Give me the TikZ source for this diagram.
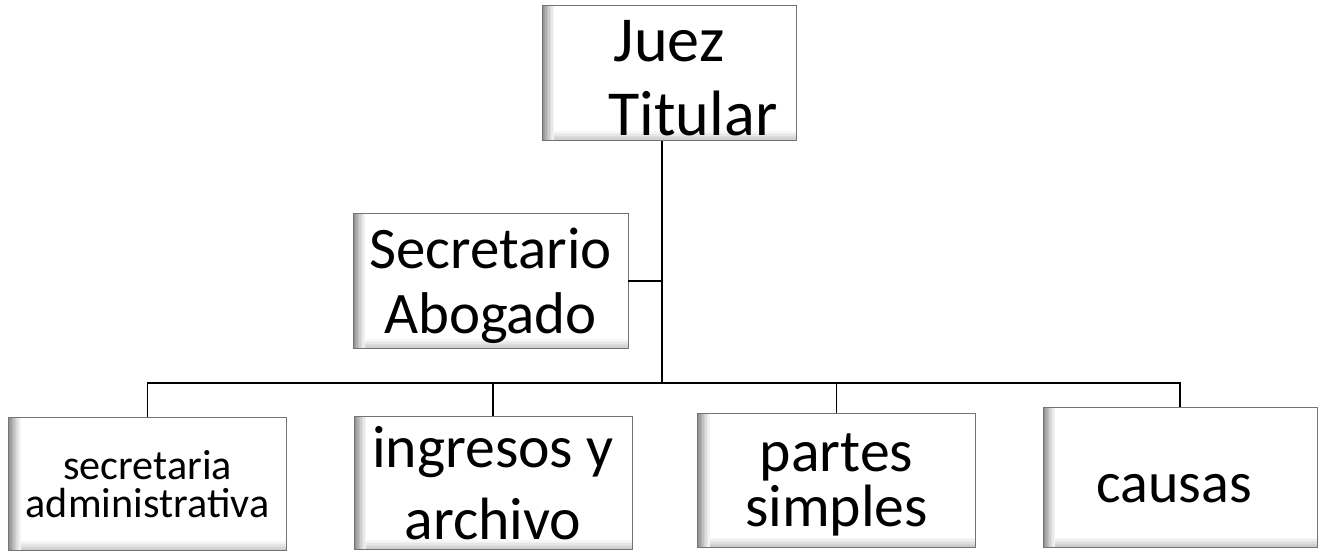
\documentclass[tikz,border=0pt]{standalone}
\usepackage{fontspec}
\setmainfont{Carlito}
\tikzset{
  puesto/.style={draw=black!55, line width=0.5pt, fill=white, inner sep=0pt,
    align=center, minimum width=5.56cm, minimum height=2.66cm, text depth=0pt,
    font=\fontsize{34}{41}\selectfont,
    path picture={
      \foreach \i/\c in {0/40,1/33,2/26,3/19,4/12,5/6}
        \fill[gray!\c] ([yshift=\i*0.03cm]path picture bounding box.south west) rectangle ([yshift=\i*0.03cm+0.03cm]path picture bounding box.south east);
      \foreach \i/\c in {0/85,1/75,2/62,3/50,4/38,5/27,6/17,7/9}
        \fill[gray!\c] ([xshift=\i*0.03cm]path picture bounding box.south west) rectangle ([xshift=\i*0.03cm+0.03cm]path picture bounding box.north west);
    }},
  enlace/.style={line width=0.9pt}
}
\begin{document}
\begin{tikzpicture}[x=0.02cm,y=-0.02cm]
  \useasboundingbox (0,0) rectangle (1328,551);

  % cargos
  \node[puesto, minimum width=5.08cm, minimum height=2.7cm, font=\fontsize{36.5}{42}\selectfont] (juez) at (669,73) {\rule{0pt}{1.03cm}Juez\\\hspace*{0.96cm}Titular};
  \node[puesto, minimum width=5.5cm, minimum height=2.7cm, font=\fontsize{33.5}{37}\selectfont] (secre) at (490.5,281) {Secretario\\Abogado};

  \node[puesto, font=\fontsize{24}{22}\selectfont] (adm) at (147.5,484) {secretaria\\administrativa};
  \node[puesto] (ingresos) at (493,483) {ingresos y\\archivo};
  \node[puesto, minimum height=2.68cm, text depth=-0.22cm, font=\fontsize{34}{31}\selectfont] (partes) at (836.5,480) {partes\\simples};
  \node[puesto, minimum width=5.48cm, minimum height=2.8cm, font=\fontsize{33}{40}\selectfont, text height=1cm] (causas) at (1180,477) {\hspace*{-0.24cm}causas};

  % lineas
  \coordinate (bus) at (662,383);
  \draw[enlace] (juez.south -| bus) -- (bus);
  \draw[enlace] (secre.east) -- (secre.east -| bus);
  \draw[enlace] (adm.north) -- (adm.north |- bus) -- (causas.north |- bus) -- (causas.north);
  \foreach \n in {ingresos,partes}
    \draw[enlace] (\n.north) -- (\n.north |- bus);
\end{tikzpicture}
\end{document}
